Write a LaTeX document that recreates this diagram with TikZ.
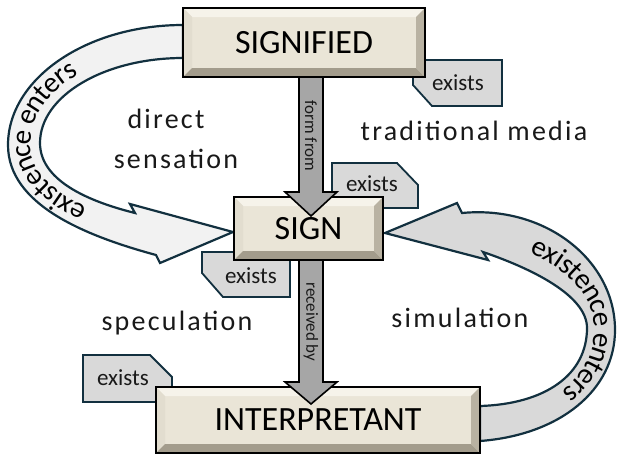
\documentclass[tikz,border=0pt]{standalone}
\usepackage{fontspec}
\setmainfont{Carlito}
\newfontfamily\spacedfont[LetterSpace=8]{Carlito}
\usetikzlibrary{calc,decorations.text}
\definecolor{boxfill}{HTML}{EAE5D7}
\definecolor{bvtopc}{HTML}{F6F3EA}
\definecolor{bvleftc}{HTML}{E2DDCF}
\definecolor{bvbotc}{HTML}{A39C8C}
\definecolor{bvrightc}{HTML}{B9B2A2}
\definecolor{navy}{HTML}{12303F}
\definecolor{bandlight}{HTML}{F2F2F2}
\definecolor{banddark}{HTML}{D9D9D9}
\definecolor{calloutc}{HTML}{D9D9D9}
\definecolor{shaftc}{HTML}{A6A6A6}
\newcommand\bandfont{\fontsize{29}{32}\selectfont}
\newcommand\freefont{\spacedfont\fontsize{28}{32}\selectfont}
\tikzset{
  bvtop/.style={fill=bvtopc},
  bvleft/.style={fill=bvleftc},
  bvbottom/.style={fill=bvbotc},
  bvright/.style={fill=bvrightc},
  bevelbox/.style={draw=black, line width=2pt, fill=boxfill, inner sep=0pt,
    text=black, font=\fontsize{34}{36}\selectfont,
    path picture={
      \coordinate (pNW) at (path picture bounding box.north west);
      \coordinate (pNE) at (path picture bounding box.north east);
      \coordinate (pSW) at (path picture bounding box.south west);
      \coordinate (pSE) at (path picture bounding box.south east);
      \fill[bvtop] (pNW) -- (pNE) -- ($(pNE)+(-9pt,-9pt)$) -- ($(pNW)+(9pt,-9pt)$) -- cycle;
      \fill[bvleft] (pNW) -- ($(pNW)+(9pt,-9pt)$) -- ($(pSW)+(9pt,9pt)$) -- (pSW) -- cycle;
      \fill[bvbottom] (pSW) -- ($(pSW)+(9pt,9pt)$) -- ($(pSE)+(-9pt,9pt)$) -- (pSE) -- cycle;
      \fill[bvright] (pNE) -- (pSE) -- ($(pSE)+(-9pt,9pt)$) -- ($(pNE)+(-9pt,-9pt)$) -- cycle;
    }},
  band/.style={draw=navy, line width=2.2pt, line join=miter},
  callout/.style={draw=navy, fill=calloutc, line width=1.8pt, line join=miter},
  calloutxt/.style={font=\fontsize{23}{26}\selectfont, text=black!90, inner sep=0pt},
  shaftarrow/.style={draw=black, fill=shaftc, line width=1.6pt, line join=miter},
  shafttxt/.style={font=\fontsize{17}{19}\selectfont, text=black!90, rotate=-90, inner sep=0pt},
  freetxt/.style={font=\freefont, text=black!90, inner sep=0pt, anchor=base},
}
\begin{document}
\begin{tikzpicture}[x=1pt,y=1pt]
\useasboundingbox (0,0) rectangle (617,-455);
\fill[white] (0,0) rectangle (617,-455);

% curved bands
\path[band, fill=bandlight] (183,-25) .. controls (86,-25) and (8,-79) .. (8,-145)
  .. controls (8,-205) and (86,-236) .. (156,-255) -- (160,-263) -- (233,-232)
  -- (130,-204) -- (135,-213) .. controls (95,-203) and (40,-183) .. (40,-143)
  .. controls (40,-96) and (104,-58) .. (183,-58) -- cycle;
\path[band, fill=banddark] (480,-441) .. controls (560,-435) and (615,-390) .. (615,-330)
  .. controls (615,-260) and (545,-205) .. (462,-213) -- (457,-203) -- (385,-233)
  -- (488,-260) -- (483,-252) .. controls (530,-268) and (587,-295) .. (587,-328)
  .. controls (587,-375) and (545,-404) .. (480,-406) -- cycle;

% text along the bands
\path[decorate, decoration={text along path, text={|\bandfont|existence enters},
  text align={left indent=64pt}, raise=-6.5pt}]
  (145,-234) .. controls (90,-220) and (24,-194) .. (24,-144)
  .. controls (24,-87.5) and (95,-41.5) .. (183,-41.5);
\path[decorate, decoration={text along path, text={|\bandfont|existence enters},
  text align={left indent=62pt}, raise=-6.5pt}]
  (472,-232) .. controls (537,-236.5) and (601,-277.5) .. (601,-329)
  .. controls (601,-382.5) and (552.5,-419.5) .. (480,-423.5);

% callouts
\path[callout] (413,-60) -- (502,-60) -- (502,-106) -- (432,-106) -- (413,-85) -- cycle;
\path[callout] (332,-163) -- (397,-163) -- (418,-185) -- (418,-208) -- (332,-208) -- cycle;
\path[callout] (202,-252) -- (290,-252) -- (290,-297) -- (223,-297) -- (202,-273) -- cycle;
\path[callout] (83,-355) -- (150,-355) -- (172,-377) -- (172,-402) -- (83,-402) -- cycle;
\node[calloutxt] (e1) at (458,-83) {exists};
\node[calloutxt] (e2) at (372,-184) {exists};
\node[calloutxt] (e3) at (251,-276) {exists};
\node[calloutxt] (e4) at (123,-378) {exists};

% boxes
\node[bevelbox, minimum width=242pt, minimum height=69pt] (sd) at (304,-42.5) {SIGNIFIED};
\node[bevelbox, minimum width=149pt, minimum height=63pt] (sg) at (308.5,-228.5) {SIGN};
\node[bevelbox, minimum width=324pt, minimum height=66pt] (ip) at (318,-420) {INTERPRETANT};

% central arrows
\coordinate (axis) at (311,0);
\path[shaftarrow] ($(axis |- sd.south)+(-12,0)$) -- ($(axis |- sg.north)+(-12,4)$)
  -- ($(axis |- sg.north)+(-26,4)$) -- ($(axis |- sg.north)+(0,-20)$)
  -- ($(axis |- sg.north)+(26,4)$) -- ($(axis |- sg.north)+(12,4)$)
  -- ($(axis |- sd.south)+(12,0)$);
\path[shaftarrow] ($(axis |- sg.south)+(-12,0)$) -- ($(axis |- ip.north)+(-12,4)$)
  -- ($(axis |- ip.north)+(-26,4)$) -- ($(axis |- ip.north)+(0,-18)$)
  -- ($(axis |- ip.north)+(26,4)$) -- ($(axis |- ip.north)+(12,4)$)
  -- ($(axis |- sg.south)+(12,0)$);
\node[shafttxt] (ff) at (311,-136) {form from};
\node[shafttxt] (rb) at (311,-322) {received by};

% free texts
\node[freetxt] (t1) at (166,-128) {direct};
\node[freetxt] (t2) at (176,-168) {sensation};
\node[freetxt] (t3) at (474,-140) {traditional media};
\node[freetxt] (t4) at (177,-330) {speculation};
\node[freetxt] (t5) at (460,-327) {simulation};
\end{tikzpicture}
\end{document}
